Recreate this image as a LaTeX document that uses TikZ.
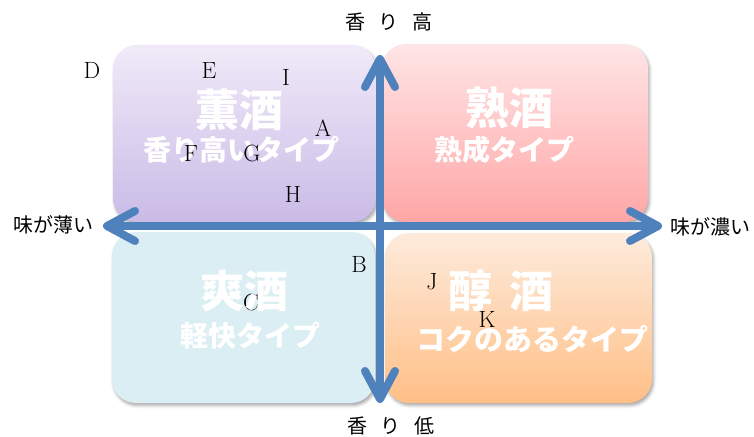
\documentclass[tikz,border=0pt]{standalone}
\usepackage{fontspec}
\newfontfamily\cjk{Noto Sans CJK JP}
\newfontfamily\cjklab{Noto Sans CJK JP}[WordSpace=3.0]
\usetikzlibrary{arrows.meta,shadows.blur}
\definecolor{axisblue}{RGB}{79,129,189}
\definecolor{purpletop}{RGB}{240,234,248}
\definecolor{purplebot}{RGB}{202,187,231}
\definecolor{pinktop}{RGB}{255,229,230}
\definecolor{pinkbot}{RGB}{255,166,166}
\definecolor{bluebox}{RGB}{218,238,243}
\definecolor{orangetop}{RGB}{254,235,220}
\definecolor{orangebot}{RGB}{255,191,134}
\begin{document}
\begin{tikzpicture}[x=1pt,y=-1pt,
  box/.style={rectangle, rounded corners=24pt, inner sep=0pt,
    blur shadow={shadow xshift=1.5pt, shadow yshift=-2.5pt, shadow blur radius=3pt, shadow opacity=35}},
  title/.style={text=white, font=\cjk\bfseries\fontsize{44}{44}\selectfont, inner sep=0pt},
  sub/.style={text=white, font=\cjk\bfseries\fontsize{28}{28}\selectfont, inner sep=0pt},
  axislab/.style={font=\cjklab\fontsize{20}{20}\selectfont, inner sep=0pt},
  letter/.style={font=\fontsize{23.5}{23.5}\selectfont, inner sep=0pt},
  axtip/.tip={Straight Barb[length=28pt,width=30pt,round]},
  axis/.style={line width=8pt, draw=axisblue, line cap=round, {axtip}-{axtip}}
]
\useasboundingbox (0,0) rectangle (754,436);
% quadrant boxes
\node[box, minimum width=263pt, minimum height=177pt, top color=purpletop, bottom color=purplebot] (kun) at (244.5,133.5) {};
\node[box, minimum width=266pt, minimum height=178pt, top color=pinktop, bottom color=pinkbot] (juku) at (515,133) {};
\node[box, minimum width=263pt, minimum height=171pt, fill=bluebox] (sou) at (243.5,317.5) {};
\node[box, minimum width=267pt, minimum height=170pt, top color=orangetop, bottom color=orangebot] (jun) at (518.5,318) {};
% letter hidden under text
\node[letter] (C) at (251,302) {C};
% box texts
\node[title] (t1) at (239,110) {薫酒};
\node[sub] (s1) at (241,150) {香り高いタイプ};
\node[title] (t2) at (509,108) {熟酒};
\node[sub] (s2) at (504,150) {熟成タイプ};
\node[title] (t3) at (244,291) {爽酒};
\node[sub] (s3) at (250,336) {軽快タイプ};
\node[title] (t4) at (501,291) {醇 \hspace{-13pt}酒};
\node[sub, font=\cjk\bfseries\fontsize{29}{29}\selectfont] (s4) at (532,339) {コクのあるタイプ};
% axes
\coordinate (L) at (103,226);
\coordinate (R) at (662,226);
\coordinate (T) at (380,55);
\coordinate (Bt) at (380,403);
\draw[axis] (L) -- (R);
\draw[axis] (T) -- (Bt);
% axis labels
\node[axislab] (hi) at (389,22) {香 り 高};
\node[axislab] (lo) at (391,426) {香 り 低};
\node[axislab] (thin) at (53,225) {味が薄い};
\node[axislab] (thick) at (710,227) {味が濃い};
% letters
\node[letter] (D) at (92,70) {D};
\node[letter] (E) at (209,70) {E};
\node[letter] (I) at (286,77) {I};
\node[letter] (A) at (323,128) {A};
\node[letter] (F) at (191,153) {F};
\node[letter] (G) at (252,153) {G};
\node[letter] (H) at (293,194) {H};
\node[letter] (B) at (359,264) {B};
\node[letter] (J) at (432,282) {J};
\node[letter] (K) at (487,319) {K};
\end{tikzpicture}
\end{document}
